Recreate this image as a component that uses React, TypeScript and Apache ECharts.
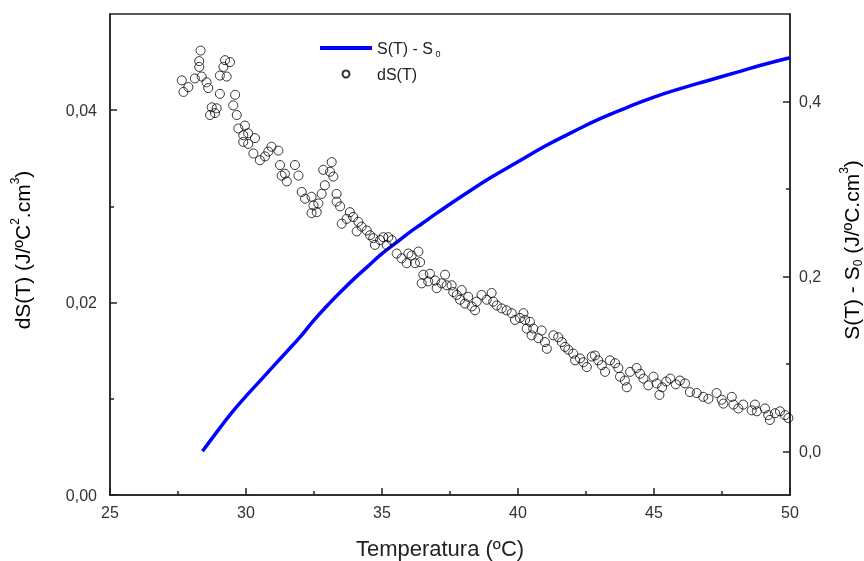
import React, { useEffect, useRef } from "react";
import * as echarts from "echarts";

// dS(T) scatter (left axis)
const dsTemp = [
  28.33, 28.28, 28.28, 27.64, 27.88, 27.7, 28.12, 28.37, 28.55, 28.61, 29.23, 29.41, 29.17, 29.29, 29.04, 29.04,
  28.74, 28.86, 28.68, 28.92, 29.6, 29.53, 29.66, 29.72, 29.96, 29.9, 30.08, 29.9, 30.33, 30.08, 30.27, 30.51,
  30.7, 30.94, 31.19, 30.82, 31.25, 31.31,
  31.43, 31.5, 31.8, 31.93, 32.05, 32.17, 32.41, 32.48, 32.41, 32.6, 32.66, 32.78, 32.9, 32.84, 33.15, 33.09,
  33.21, 33.33, 33.33, 33.46, 33.52, 33.82, 33.7, 33.94, 34.13, 34.07, 34.25, 34.44, 34.56, 34.68, 34.74, 34.93,
  35.05, 35.23, 35.36, 35.17, 35.54, 35.72, 35.91, 35.97,
  36.09, 36.34, 36.21, 36.4, 36.52, 36.46, 36.76, 36.7, 36.95, 37.01, 37.19, 37.32, 37.38, 37.56, 37.62, 37.75,
  37.93, 37.87, 38.05, 38.17, 38.3, 38.42, 38.48, 38.66, 38.85, 39.03, 39.09, 39.22, 39.4, 39.58, 39.77, 39.89,
  40.07, 40.2, 40.26, 40.32,
  40.44, 40.56, 40.5, 40.87, 40.75, 40.99, 41.06, 41.3, 41.48, 41.61, 41.73, 41.85, 42.03, 42.1, 42.28, 42.4,
  42.53, 42.71, 42.83, 42.95, 43.08, 43.2, 43.38, 43.57, 43.69, 43.75, 43.93, 44.0, 44.12, 44.36, 44.49, 44.61,
  44.79, 44.98, 45.1,
  45.2, 45.3, 45.45, 45.6, 45.8, 45.95,
  46.14, 46.32, 46.57, 46.81, 47.0, 47.3, 47.49, 47.55, 47.86, 47.92, 48.1, 48.28, 48.59, 48.71, 48.78, 49.08,
  49.2, 49.26, 49.45, 49.63, 49.82, 49.94,
];
const dsValues = [
  0.0462, 0.0451, 0.0445, 0.0431, 0.0424, 0.0419, 0.0433, 0.0435, 0.0429, 0.0423, 0.0452, 0.045, 0.0445, 0.0435, 0.0436, 0.0417,
  0.0403, 0.0397, 0.0395, 0.0402, 0.0416, 0.0405, 0.0395, 0.0381, 0.0384, 0.0374, 0.0376, 0.0367, 0.0371, 0.0365, 0.0355, 0.0348,
  0.0352, 0.0362, 0.0358, 0.0357, 0.0343, 0.0332,
  0.0334, 0.0326, 0.0343, 0.0332, 0.0315, 0.0308, 0.031, 0.0301, 0.0293, 0.0294, 0.0303, 0.0313, 0.0322, 0.0338, 0.0346, 0.0336,
  0.0331, 0.0313, 0.0305, 0.03, 0.0282, 0.0294, 0.0287, 0.0289, 0.0284, 0.0274, 0.0279, 0.0275, 0.027, 0.0267, 0.026, 0.0265,
  0.0268, 0.0268, 0.0265, 0.026, 0.0251, 0.0246, 0.0241, 0.0251,
  0.0249, 0.0253, 0.0241, 0.0242, 0.0229, 0.022, 0.023, 0.0222, 0.0223, 0.0215, 0.022, 0.0229, 0.0218, 0.0218, 0.0211, 0.0208,
  0.0213, 0.0203, 0.0199, 0.0206, 0.0196, 0.0192, 0.0201, 0.0208, 0.0203, 0.021, 0.0201, 0.0197, 0.0194, 0.0192, 0.0189, 0.0182,
  0.0184, 0.0189, 0.0182, 0.0173,
  0.018, 0.0173, 0.0166, 0.0171, 0.0163, 0.0159, 0.0152, 0.0166, 0.0164, 0.0159, 0.0154, 0.0151, 0.0147, 0.014, 0.0142, 0.0138,
  0.0133, 0.0144, 0.0145, 0.014, 0.0135, 0.0128, 0.014, 0.0137, 0.0132, 0.0123, 0.0119, 0.0112, 0.0128, 0.0132, 0.0126, 0.0121,
  0.0114, 0.0123, 0.0116,
  0.0104, 0.0112, 0.0118, 0.0121, 0.0115, 0.0119,
  0.0116, 0.0107, 0.0106, 0.0102, 0.01, 0.0106, 0.0099, 0.0095, 0.0102, 0.0094, 0.009, 0.0094, 0.0088, 0.0094, 0.0087, 0.009,
  0.0083, 0.0078, 0.0085, 0.0087, 0.0083, 0.008,
];

// S(T) - S0 curve (right axis)
const sTemp = [28.4, 29.0, 29.5, 30.0, 30.5, 31.0, 31.5, 32.0, 32.5, 33.0, 33.5, 34.0, 34.5, 35.0, 35.5, 36.0, 36.5, 37.0, 38.0, 39.0, 40.0, 41.0, 42.0, 43.0, 44.0, 45.0, 46.0, 47.0, 48.0, 49.0, 50.0];
const sValues = [0.0, 0.025, 0.045, 0.063, 0.08, 0.097, 0.114, 0.131, 0.15, 0.167, 0.183, 0.198, 0.212, 0.226, 0.238, 0.25, 0.261, 0.272, 0.293, 0.313, 0.331, 0.349, 0.365, 0.38, 0.393, 0.405, 0.415, 0.424, 0.433, 0.442, 0.45];

const xTicks = [25, 30, 35, 40, 45, 50];
const leftMajor = [0, 0.02, 0.04];
const leftMinor = [0.01, 0.03];
const rightMajor = [0, 0.2, 0.4];
const rightMinor = [0.1, 0.3];

const FONT = "Liberation Sans, Arial, sans-serif";
const AX = "#222";

export default function App() {
  const ref = useRef<HTMLDivElement>(null);
  useEffect(() => {
    const chart = echarts.init(ref.current!, null, { renderer: "svg" });
    const labelStyle = { color: "#333", fontFamily: FONT, fontSize: 16 };
    const titleRich = {
      a: { fontFamily: FONT, fontSize: 21, color: "#222", lineHeight: 26, verticalAlign: "middle" },
      sup: { fontFamily: FONT, fontSize: 12, color: "#222", lineHeight: 12, verticalAlign: "top" },
      sub: { fontFamily: FONT, fontSize: 12, color: "#222", lineHeight: 12, verticalAlign: "bottom" },
    };
    const legendText = {
      fontFamily: FONT,
      fontSize: 16,
      color: "#222",
      rich: {
        a: { fontFamily: FONT, fontSize: 16, color: "#222", lineHeight: 20, verticalAlign: "middle" },
        sub: { fontFamily: FONT, fontSize: 9, color: "#222", lineHeight: 9, verticalAlign: "bottom" },
      },
    };
    const minorAxis = (pos: "left" | "right", min: number, max: number, vals: number[]) => ({
      type: "value",
      position: pos,
      min,
      max,
      axisLine: { show: false },
      axisLabel: { show: false },
      splitLine: { show: false },
      axisTick: { show: true, inside: true, length: 4, customValues: vals, lineStyle: { color: AX, width: 1.5 } },
    });
    chart.setOption({
      animation: false,
      grid: { left: 110, right: 74, top: 14, bottom: 66, show: true, borderColor: AX, borderWidth: 1.5, backgroundColor: "transparent" },
      legend: [
        {
          orient: "vertical",
          left: 320,
          top: 40,
          padding: 0,
          itemWidth: 52,
          itemHeight: 4,
          textStyle: legendText,
          formatter: () => "{a|S(T) - S}{sub| 0}",
          data: [{ name: "S(T) - S0", icon: "rect" }],
        },
        {
          orient: "vertical",
          left: 341.5,
          top: 66,
          padding: 0,
          itemWidth: 52,
          itemHeight: 7,
          textStyle: legendText,
          formatter: (name: string) => "{a|" + name + "}",
          data: ["dS(T)"],
        },
      ],
      xAxis: {
        type: "value",
        min: 25,
        max: 50,
        interval: 5,
        axisLine: { show: true, lineStyle: { color: AX, width: 1.5 } },
        axisTick: { show: true, inside: true, length: 7, lineStyle: { color: AX, width: 1.5 } },
        minorTick: { show: true, splitNumber: 2, length: 4, lineStyle: { color: AX, width: 1.5 } },
        axisLabel: { ...labelStyle, margin: 9, customValues: xTicks, formatter: (v: number) => String(v) },
        splitLine: { show: false },
      },
      yAxis: [
        {
          type: "value",
          position: "left",
          min: 0,
          max: 0.05,
          axisLine: { show: true, lineStyle: { color: AX, width: 1.5 } },
          axisTick: { show: true, inside: true, length: 7, customValues: leftMajor, lineStyle: { color: AX, width: 1.5 } },
          axisLabel: { ...labelStyle, margin: 13, customValues: leftMajor, formatter: (v: number) => v.toFixed(2).replace(".", ",") },
          splitLine: { show: false },
        },
        {
          type: "value",
          position: "right",
          min: -0.05,
          max: 0.5,
          axisLine: { show: true, lineStyle: { color: AX, width: 1.5 } },
          axisTick: { show: true, inside: true, length: 7, customValues: rightMajor, lineStyle: { color: AX, width: 1.5 } },
          axisLabel: { ...labelStyle, margin: 9, customValues: rightMajor, formatter: (v: number) => v.toFixed(1).replace(".", ",") },
          splitLine: { show: false },
        },
        minorAxis("left", 0, 0.05, leftMinor),
        minorAxis("right", -0.05, 0.5, rightMinor),
      ],
      graphic: [
        {
          type: "text",
          x: 440,
          y: 548,
          style: { text: "Temperatura (ºC)", fontFamily: FONT, fontSize: 22, fill: "#222", align: "center", verticalAlign: "middle" },
        },
        {
          type: "text",
          x: 22,
          y: 250,
          rotation: Math.PI / 2,
          style: {
            text: "{a|dS(T) (J/ºC}{sup|2}{a|.cm}{sup|3}{a|)}",
            rich: titleRich,
            align: "center",
            verticalAlign: "middle",
          },
        },
        {
          type: "text",
          x: 851,
          y: 250,
          rotation: Math.PI / 2,
          style: {
            text: "{a|S(T) - S}{sub|0}{a| (J/ºC.cm}{sup|3}{a|)}",
            rich: titleRich,
            align: "center",
            verticalAlign: "middle",
          },
        },
      ],
      series: [
        {
          name: "S(T) - S0",
          type: "line",
          yAxisIndex: 1,
          smooth: true,
          symbol: "none",
          lineStyle: { color: "#0000ff", width: 3.5 },
          itemStyle: { color: "#0000ff" },
          data: sTemp.map((t, i) => [t, sValues[i]]),
          z: 3,
        },
        {
          name: "dS(T)",
          type: "scatter",
          yAxisIndex: 0,
          symbol: "circle",
          symbolSize: 9,
          itemStyle: { color: "rgba(0,0,0,0)", borderColor: "#000", borderWidth: 1 },
          data: dsTemp.map((t, i) => [t, dsValues[i]]),
          z: 4,
        },
      ],
    });
    return () => chart.dispose();
  }, []);
  return <div ref={ref} style={{ position: "fixed", left: 0, top: 0, width: 864, height: 561 }} />;
}
